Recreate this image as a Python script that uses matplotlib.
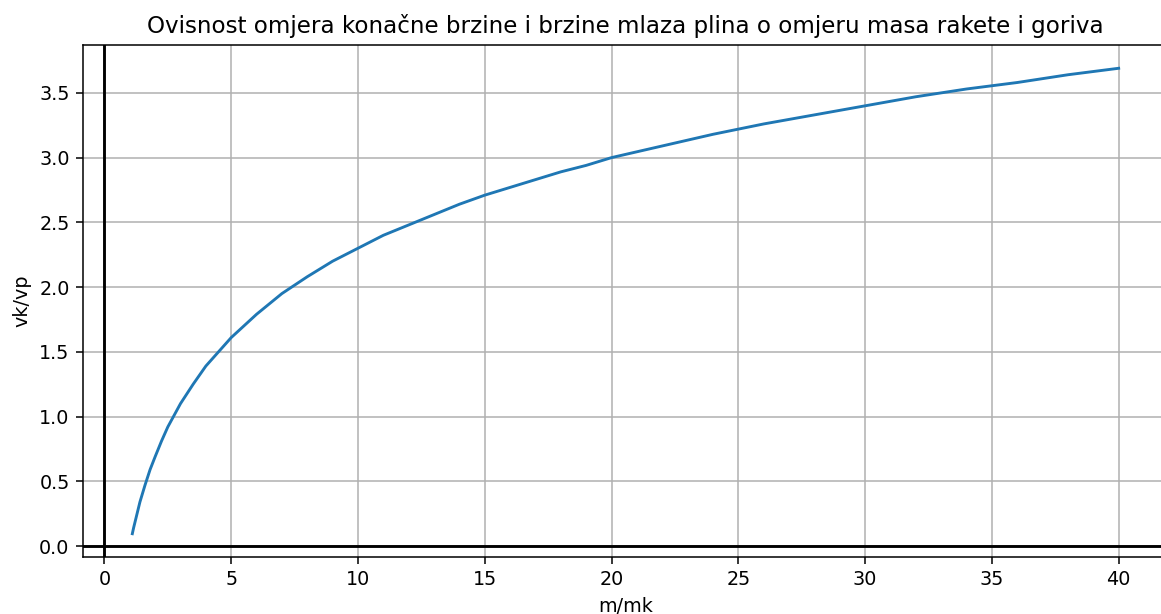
import matplotlib.pyplot as plt

# Omjer masa rakete i goriva (m/mk) i omjer brzina (vk/vp), ocitano sa slike
mass_ratio = [1.1, 1.15, 1.2, 1.3, 1.4, 1.5, 1.6, 1.8, 2, 2.25, 2.5, 2.75, 3,
              3.5, 4, 4.5, 5, 5.5, 6, 7, 8, 9, 10, 11, 12, 13, 14, 15, 16,
              17, 18, 19, 20, 22, 24, 26, 28, 30, 32, 34, 36, 38, 40]
speed_ratio = [0.095, 0.14, 0.18, 0.26, 0.34, 0.405, 0.47, 0.59, 0.69, 0.81,
               0.92, 1.01, 1.10, 1.25, 1.39, 1.50, 1.61, 1.70, 1.79, 1.95,
               2.08, 2.20, 2.30, 2.40, 2.48, 2.56, 2.64, 2.71, 2.77, 2.83,
               2.89, 2.94, 3.00, 3.09, 3.18, 3.26, 3.33, 3.40, 3.47, 3.53,
               3.58, 3.64, 3.69]

title = "Ovisnost omjera konačne brzine i brzine mlaza plina o omjeru masa rakete i goriva"

DPI = 138
fig = plt.figure(figsize=(1161 / DPI, 614 / DPI), dpi=DPI)
# axes reaches a bit past the right edge, like in the original screenshot
ax = fig.add_axes([83 / 1161, 57 / 614, 1085 / 1161, 512 / 614])

ax.plot(mass_ratio, speed_ratio, color="#1f77b4", linewidth=1.5)
xlim = ax.get_xlim()
ylim = ax.get_ylim()

ax.axhline(0, color="black", linewidth=1.5)
ax.axvline(0, color="black", linewidth=1.5)
ax.set_xlim(xlim)
ax.set_ylim(ylim)

ax.set_xticks([0, 5, 10, 15, 20, 25, 30, 35, 40])
ax.set_yticks([0.0, 0.5, 1.0, 1.5, 2.0, 2.5, 3.0, 3.5])
ax.grid(True)
ax.set_title(title, fontsize=12)
ax.set_xlabel("m/mk")
ax.set_ylabel("vk/vp")

fig.savefig("out.png", dpi=DPI)
